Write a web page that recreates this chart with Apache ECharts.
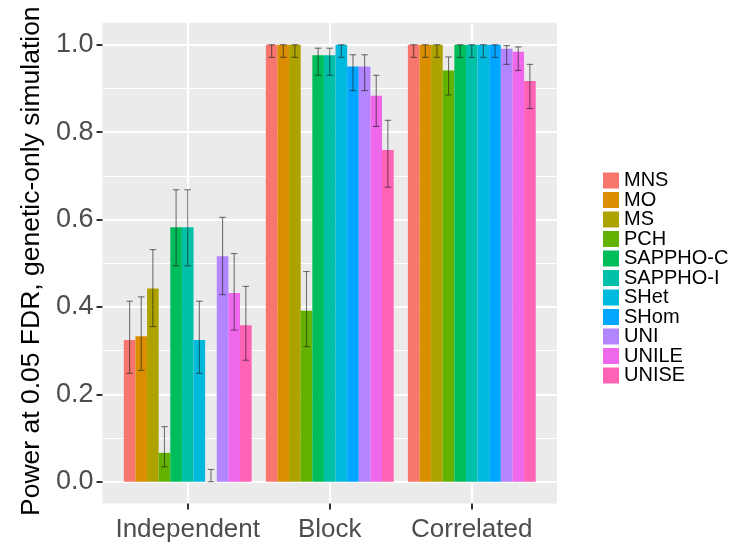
<!DOCTYPE html>
<html>
<head>
<meta charset="utf-8">
<script src="https://cdn.jsdelivr.net/npm/echarts@6/dist/echarts.min.js"></script>
<style>
  html, body { margin: 0; padding: 0; background: #fff; }
  #chart { width: 738px; height: 546px; }
</style>
</head>
<body>
<div id="chart"></div>
<script>
// Simulation scenarios (x categories) and methods (dodged bars)
const categories = ['Independent', 'Block', 'Correlated'];
const methods = ['MNS', 'MO', 'MS', 'PCH', 'SAPPHO-C', 'SAPPHO-I', 'SHet', 'SHom', 'UNI', 'UNILE', 'UNISE'];
const methodColors = ['#F8766D', '#DB8E00', '#AEA200', '#64B200', '#00BD5C', '#00C1A7',
                      '#00BADE', '#00A6FF', '#B385FF', '#EF67EB', '#FF63B6'];
const yTicks = [0, 0.2, 0.4, 0.6, 0.8, 1.0];

// Power per method, one value per scenario (Independent, Block, Correlated)
const powerMNS      = [0.324, 1.000, 1.000];
const powerMO       = [0.333, 1.000, 1.000];
const powerMS       = [0.442, 1.000, 1.000];
const powerPCH      = [0.066, 0.391, 0.941];
const powerSAPPHOC  = [0.582, 0.976, 1.000];
const powerSAPPHOI  = [0.582, 0.976, 1.000];
const powerSHet     = [0.324, 1.000, 1.000];
const powerSHom     = [0.000, 0.950, 1.000];
const powerUNI      = [0.516, 0.950, 0.991];
const powerUNILE    = [0.432, 0.883, 0.984];
const powerUNISE    = [0.358, 0.759, 0.917];

// Lower interval bounds
const lowerMNS      = [0.248, 0.971, 0.971];
const lowerMO       = [0.255, 0.971, 0.971];
const lowerMS       = [0.355, 0.971, 0.971];
const lowerPCH      = [0.034, 0.309, 0.885];
const lowerSAPPHOC  = [0.494, 0.930, 0.971];
const lowerSAPPHOI  = [0.494, 0.930, 0.971];
const lowerSHet     = [0.248, 0.971, 0.971];
const lowerSHom     = [0.000, 0.895, 0.971];
const lowerUNI      = [0.428, 0.895, 0.955];
const lowerUNILE    = [0.347, 0.813, 0.941];
const lowerUNISE    = [0.278, 0.674, 0.854];

// Upper interval bounds
const upperMNS      = [0.413, 1.000, 1.000];
const upperMO       = [0.423, 1.000, 1.000];
const upperMS       = [0.531, 1.000, 1.000];
const upperPCH      = [0.126, 0.481, 0.972];
const upperSAPPHOC  = [0.668, 0.992, 1.000];
const upperSAPPHOI  = [0.668, 0.992, 1.000];
const upperSHet     = [0.413, 1.000, 1.000];
const upperSHom     = [0.028, 0.977, 1.000];
const upperUNI      = [0.605, 0.977, 0.998];
const upperUNILE    = [0.522, 0.930, 0.995];
const upperUNISE    = [0.447, 0.827, 0.955];

const powerAll = [powerMNS, powerMO, powerMS, powerPCH, powerSAPPHOC, powerSAPPHOI,
                  powerSHet, powerSHom, powerUNI, powerUNILE, powerUNISE];
const lowerAll = [lowerMNS, lowerMO, lowerMS, lowerPCH, lowerSAPPHOC, lowerSAPPHOI,
                  lowerSHet, lowerSHom, lowerUNI, lowerUNILE, lowerUNISE];
const upperAll = [upperMNS, upperMO, upperMS, upperPCH, upperSAPPHOC, upperSAPPHOI,
                  upperSHet, upperSHom, upperUNI, upperUNILE, upperUNISE];

// Panel geometry (px)
const W = 738, H = 546;
const panelL = 102.5, panelR = 557, panelT = 22.7, panelB = 503.5;
const dataT = 44.7, dataB = 481.7;          // y = 1 and y = 0
const band = (panelR - panelL) / 3.2;       // one category unit (0.6 expansion each side)
const barsL = panelL + 0.1 * band, barsR = panelR - 0.1 * band;

// Background x axis: positions 0.4 .. 3.6 in steps of 0.2, category centres at 1, 2, 3
const bgPositions = [];
for (let i = 0; i <= 16; i++) bgPositions.push('p' + i);
const catAt = { 3: 0, 8: 1, 13: 2 };
const isCat = (idx) => catAt[idx] !== undefined;

const chart = echarts.init(document.getElementById('chart'), null, { renderer: 'canvas' });

const nM = methods.length;
const groupFrac = 0.9;

const series = [];
methods.forEach((m, k) => {
  series.push({
    name: m,
    type: 'bar',
    xAxisIndex: 2,
    yAxisIndex: 2,
    data: powerAll[k],
    barGap: '0%',
    barCategoryGap: '10%',
    itemStyle: { color: methodColors[k] },
    emphasis: { disabled: true }
  });
});
methods.forEach((m, k) => {
  series.push({
    name: m + ' interval',
    type: 'custom',
    xAxisIndex: 2,
    yAxisIndex: 2,
    z: 5,
    silent: true,
    data: categories.map((c, i) => [i, lowerAll[k][i], upperAll[k][i]]),
    renderItem: function (params, api) {
      const ci = api.value(0);
      const lo = api.coord([ci, api.value(1)]);
      const hi = api.coord([ci, api.value(2)]);
      const bw = api.size([1, 0])[0] * groupFrac / nM;
      const x = lo[0] + (k - (nM - 1) / 2) * bw;
      const cap = 3.3;
      const st = { stroke: 'rgba(30,30,30,0.6)', lineWidth: 1.1, fill: null };
      return {
        type: 'group',
        children: [
          { type: 'line', shape: { x1: x, y1: lo[1], x2: x, y2: hi[1] }, style: st },
          { type: 'line', shape: { x1: x - cap, y1: lo[1], x2: x + cap, y2: lo[1] }, style: st },
          { type: 'line', shape: { x1: x - cap, y1: hi[1], x2: x + cap, y2: hi[1] }, style: st }
        ]
      };
    }
  });
});

const option = {
  animation: false,
  backgroundColor: '#ffffff',
  textStyle: { fontFamily: 'Liberation Sans, Arial, sans-serif' },
  grid: [
    // panel background with vertical grid lines and x labels
    { left: panelL, right: W - panelR, top: panelT, bottom: H - panelB,
      show: true, backgroundColor: '#EBEBEB', borderWidth: 0 },
    // y scale from 0 to 1 with horizontal grid lines
    { left: panelL, right: W - panelR, top: dataT, bottom: H - dataB },
    // bars
    { left: barsL, right: W - barsR, top: dataT, bottom: H - dataB }
  ],
  xAxis: [
    { gridIndex: 0, type: 'category', data: bgPositions, boundaryGap: false,
      axisLine: { show: false },
      axisTick: { show: true, length: 6, interval: (i) => isCat(i),
                  lineStyle: { color: '#333333', width: 2 } },
      axisLabel: { show: true, interval: (i) => isCat(i), margin: 13,
                   formatter: (v, i) => isCat(i) ? categories[catAt[i]] : '',
                   color: '#4D4D4D', fontSize: 26 },
      splitLine: { show: true, interval: (i) => isCat(i),
                   lineStyle: { color: '#ffffff', width: 2 } } },
    { gridIndex: 1, type: 'value', min: 0, max: 1, show: false },
    { gridIndex: 2, type: 'category', data: categories, show: false, boundaryGap: true }
  ],
  yAxis: [
    { gridIndex: 0, type: 'value', min: 0, max: 1, show: false },
    { gridIndex: 1, type: 'value', min: 0, max: 1, interval: 0.2,
      axisLine: { show: false },
      axisTick: { show: true, length: 6, lineStyle: { color: '#333333', width: 2 } },
      axisLabel: { color: '#4D4D4D', fontSize: 27, margin: 9,
                   formatter: (v) => v.toFixed(1) },
      splitLine: { show: true, lineStyle: { color: '#ffffff', width: 2 } },
      minorTick: { show: false, splitNumber: 2 },
      minorSplitLine: { show: true, lineStyle: { color: '#ffffff', width: 1 } },
      name: 'Power at 0.05 FDR, genetic-only simulation',
      nameLocation: 'middle', nameGap: 57, nameRotate: 90,
      nameTextStyle: { color: '#000000', fontSize: 26.5, padding: [0, 0, 0, 4] } },
    { gridIndex: 2, type: 'value', min: 0, max: 1, show: false }
  ],
  legend: {
    data: methods,
    orient: 'vertical',
    left: 598, top: 165.5,
    itemWidth: 16, itemHeight: 16, itemGap: -0.5,
    icon: 'rect',
    selectedMode: false,
    textStyle: { color: '#000000', fontSize: 20 }
  },
  series: series
};

chart.setOption(option);
</script>
</body>
</html>
